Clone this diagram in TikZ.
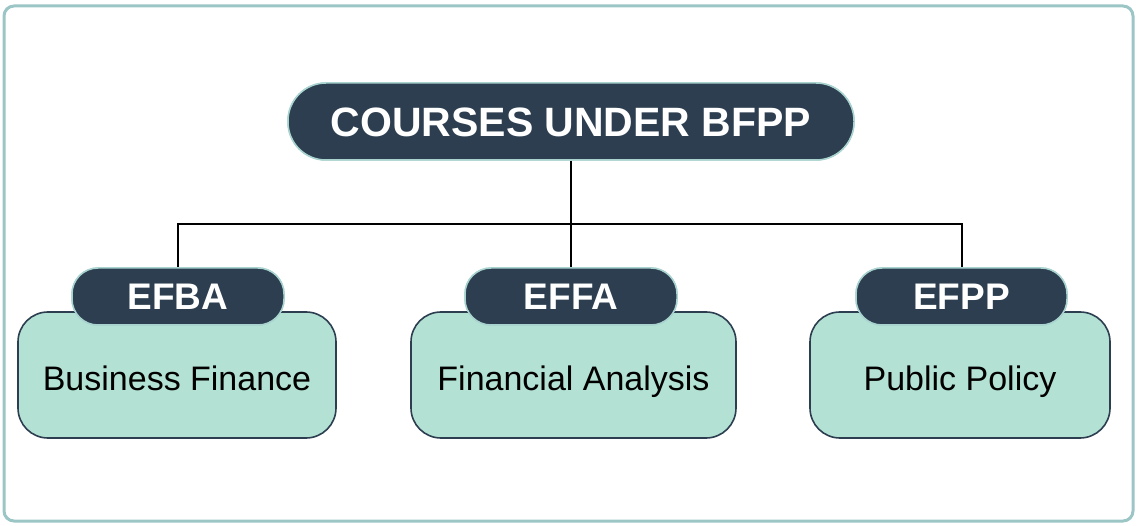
\documentclass[tikz,border=0pt]{standalone}
\usepackage{fontspec}
\setmainfont{Liberation Sans}
\definecolor{navy}{HTML}{2C3E50}
\definecolor{mint}{HTML}{B3E1D3}
\definecolor{frame}{HTML}{9CC5C5}
\definecolor{rim}{HTML}{A8D3CE}
\tikzset{
  titlepill/.style={rectangle, rounded corners=38pt, fill=navy, draw=rim, line width=1.5pt,
    minimum width=566pt, minimum height=77pt, text=white, inner sep=0pt,
    text height=30pt, text depth=0pt,
    font=\fontsize{41}{41}\selectfont\bfseries},
  codepill/.style={rectangle, rounded corners=26pt, fill=navy, draw=rim, line width=1.5pt,
    minimum height=57pt, text=white, inner sep=0pt,
    font=\fontsize{37}{37}\selectfont\bfseries},
  coursebox/.style={rectangle, rounded corners=30pt, fill=mint, draw=navy, line width=1.6pt,
    minimum height=126pt, inner sep=0pt, text=black,
    text height=32pt, text depth=0pt,
    font=\fontsize{34}{34}\selectfont},
  link/.style={draw=black, line width=2pt}
}
\begin{document}
\begin{tikzpicture}[x=1pt,y=-1pt]
\useasboundingbox (0,0) rectangle (1138,526);
\draw[frame, line width=3pt, rounded corners=10pt] (4,6) rectangle (1133,521);

\coordinate (bar) at (571,224);

% course boxes
\node[coursebox, minimum width=318pt] (bf) at (177,375) {Business Finance};
\node[coursebox, minimum width=325pt] (fa) at (573.5,375) {Financial Analysis};
\node[coursebox, minimum width=300pt] (pp) at (960,375) {Public Policy};

% connectors
\path (571,121.5) node[titlepill] (top) {COURSES UNDER BFPP};
\node[codepill, minimum width=212pt] (efba) at (178,296.5) {EFBA};
\node[codepill, minimum width=212pt] (effa) at (571,296.5) {EFFA};
\node[codepill, minimum width=211pt] (efpp) at (961.5,296.5) {EFPP};
\draw[link] (top.south) -- (effa.north);
\draw[link] (efba.north) |- (bar) -| (efpp.north);

% pills on top of connectors
\node[titlepill] at (top.center) {COURSES UNDER BFPP};
\node[codepill, minimum width=212pt] at (efba.center) {EFBA};
\node[codepill, minimum width=212pt] at (effa.center) {EFFA};
\node[codepill, minimum width=211pt] at (efpp.center) {EFPP};
\end{tikzpicture}
\end{document}
